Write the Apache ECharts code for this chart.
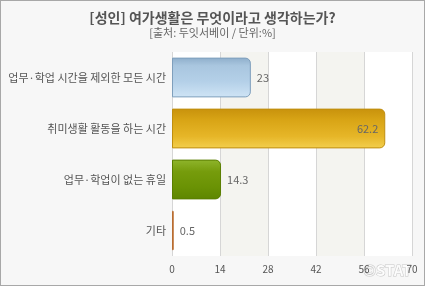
<!DOCTYPE html>
<html><head><meta charset="utf-8">
<script src="https://cdn.jsdelivr.net/npm/echarts@6/dist/echarts.min.js"></script>
<style>
html,body{margin:0;padding:0;background:#f7f7f7;}
#c{width:423px;height:284px;border:1px solid #a8a8a8;background:#f7f7f7;}
</style></head>
<body><div id="c"></div>
<script>
const categories = ['업무·학업 시간을 제외한 모든 시간', '취미생활 활동을 하는 시간', '업무·학업이 없는 휴일', '기타'];
const values = [23, 62.2, 14.3, 0.5];
const tickLabels = [0, 14, 28, 42, 56, 70];

const fills = [
  [['#8eaecb',0],['#a9c6df',0.2],['#b4d0e8',0.6],['#cfe4f5',1]],
  [['#c8920c',0],['#d9a516',0.3],['#e6b628',0.7],['#f3cf4e',1]],
  [['#8fb52c',0],['#769c0c',0.3],['#6a9204',0.7],['#5e8600',1]],
  [['#e0a070',0],['#d0844a',0.5],['#c47838',1]]
];
const borders = ['#7f9fbc', '#bf8e10', '#5a7e00', '#b86c30'];
const font = '"Noto Sans CJK KR", sans-serif';

const chart = echarts.init(document.getElementById('c'));
chart.setOption({
  backgroundColor: '#f7f7f7',
  animation: false,
  title: {
    text: '[성인] 여가생활은 무엇이라고 생각하는가?',
    subtext: '[출처: 두잇서베이 / 단위:%]',
    left: 'center', top: 5, itemGap: 2,
    textStyle: {fontFamily: font, fontSize: 14, fontWeight: 'bold', color: '#555'},
    subtextStyle: {fontFamily: font, fontSize: 11, color: '#666', align: 'center'}
  },
  grid: {left: 171, right: 12, top: 51, bottom: 29},
  xAxis: {
    type: 'value', min: 0, max: 70, interval: 14,
    axisLine: {show: false}, axisTick: {show: false},
    axisLabel: {fontFamily: font, fontSize: 10, color: '#555', margin: 8,
      formatter: v => tickLabels.includes(v) ? String(v) : ''},
    splitLine: {show: true, lineStyle: {color: '#d6d6d6', width: 1}},
    splitArea: {show: true, areaStyle: {color: ['#ffffff', '#f4f4f0']}}
  },
  yAxis: {
    type: 'category', data: categories, inverse: true,
    axisLine: {show: false}, axisTick: {show: false},
    axisLabel: {fontFamily: font, fontSize: 11, color: '#555', margin: 6}
  },
  series: [{
    type: 'bar', barWidth: '78%',
    data: values.map((v, i) => ({
      value: v,
      itemStyle: {
        color: {type: 'linear', x: 0, y: 0, x2: 0, y2: 1,
          colorStops: fills[i].map(s => ({offset: s[1], color: s[0]}))},
        borderColor: borders[i], borderWidth: 1,
        borderRadius: i === 3 ? [2, 2, 2, 2] : [0, 5, 5, 0]
      },
      label: i === 1 ? {position: 'insideRight', distance: 7} : {position: 'right', distance: 6}
    })),
    label: {show: true, fontFamily: font, fontSize: 11, color: '#666'}
  }],
  graphic: [{
    type: 'text', right: 12, bottom: 7,
    style: {text: '©STAT', font: 'bold 15px ' + font, fill: 'rgba(255,255,255,0.85)',
      stroke: '#c8c8c8', lineWidth: 1}
  }]
});
</script></body></html>
